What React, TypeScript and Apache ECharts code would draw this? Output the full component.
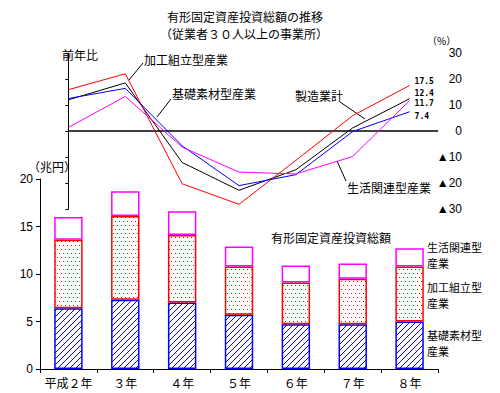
import React, { useEffect, useRef } from "react";
import * as echarts from "echarts";

const categories = ["平成２年", "３年", "４年", "５年", "６年", "７年", "８年"];
// 有形固定資産投資総額 (兆円)
const kisoBar = [6.4, 7.3, 7.0, 5.7, 4.7, 4.7, 5.0];
const kakoBar = [7.2, 8.8, 7.1, 5.1, 4.4, 4.8, 5.8];
const seikatsuBar = [2.4, 2.6, 2.5, 2.1, 1.8, 1.6, 1.9];
// 前年比 (%)
const seizoLine = [12.0, 18.5, -12.1, -22.8, -14.9, 1.2, 12.4];
const kakoLine = [15.9, 22.0, -20.3, -28.2, -11.3, 5.9, 17.5];
const kisoLine = [12.5, 16.4, -5.7, -21.0, -16.8, -0.2, 7.4];
const seikatsuLine = [1.4, 13.3, -6.2, -15.8, -16.5, -9.8, 11.7];

const JP = "'Noto Sans CJK JP', sans-serif";
const NUM = "'Liberation Sans', 'DejaVu Sans', sans-serif";

function svgTile(w: number, h: number, color: string, cells: [number, number][]): string {
  const rects = cells
    .map(([x, y]) => `<rect x='${x}' y='${y}' width='1' height='1' fill='${color}'/>`)
    .join("");
  const svg =
    `<svg xmlns='http://www.w3.org/2000/svg' width='${w}' height='${h}' shape-rendering='crispEdges'>` +
    `<rect width='${w}' height='${h}' fill='#ffffff'/>` +
    rects +
    `</svg>`;
  return "data:image/svg+xml;charset=utf-8," + encodeURIComponent(svg);
}

const dotTile = svgTile(4, 8, "#ff0000", [
  [1, 1],
  [3, 5],
]);
const hatchTile = svgTile(6, 6, "#0000ff", [
  [0, 5],
  [1, 4],
  [2, 3],
  [3, 2],
  [4, 1],
  [5, 0],
]);

function lineSeries(name: string, vals: number[], color: string, dy: number) {
  return {
    name,
    type: "line",
    xAxisIndex: 0,
    yAxisIndex: 0,
    symbol: "none",
    lineStyle: { color, width: 1 },
    itemStyle: { color },
    z: 5,
    endLabel: {
      show: true,
      distance: 5,
      offset: [0, dy],
      formatter: (p: any) => Number(p.value[1]).toFixed(1),
      fontFamily: "'DejaVu Sans Mono', monospace",
      fontWeight: "bold",
      fontSize: 8,
      color: "#000",
    },
    data: vals.map((v, i) => [i, v]),
  };
}

export default function App() {
  const ref = useRef<HTMLDivElement>(null);
  useEffect(() => {
    document.body.style.margin = "0";
    const chart = echarts.init(ref.current!, null, { renderer: "svg" });
    const txt = (text: string, x: number, y: number, extra: any = {}) => ({
      type: "text",
      x,
      y,
      style: {
        text,
        fontFamily: JP,
        fontSize: 12,
        fill: "#000",
        textVerticalAlign: "middle",
        ...extra,
      },
    });
    const ln = (x1: number, y1: number, x2: number, y2: number) => ({
      type: "line",
      shape: { x1, y1, x2, y2 },
      style: { stroke: "#000", lineWidth: 1 },
    });
    chart.setOption({
      animation: false,
      backgroundColor: "#ffffff",
      grid: [
        { left: 40, right: 62, top: 53, height: 156 },
        { left: 40, right: 62, top: 179, height: 190 },
      ],
      xAxis: [
        { type: "value", gridIndex: 0, min: -0.5, max: 6.5, show: false },
        {
          type: "category",
          gridIndex: 1,
          data: categories,
          axisLine: { lineStyle: { color: "#000", width: 1 } },
          axisTick: { show: true, length: 4, lineStyle: { color: "#000" } },
          axisLabel: {
            interval: 0,
            fontFamily: JP,
            fontSize: 12,
            color: "#000",
            margin: 7,
          },
        },
      ],
      yAxis: [
        {
          type: "value",
          gridIndex: 0,
          position: "right",
          min: -30,
          max: 30,
          interval: 10,
          splitLine: { show: false },
          axisLine: { show: true, lineStyle: { color: "#000", width: 1 } },
          axisTick: { show: true, inside: true, length: 3, lineStyle: { color: "#000" } },
          axisLabel: {
            fontFamily: NUM,
            fontSize: 12,
            color: "#000",
            align: "right",
            margin: 24,
            formatter: (v: number) => (v < 0 ? "▲" + Math.abs(v) : String(v)),
          },
        },
        {
          type: "value",
          gridIndex: 1,
          min: 0,
          max: 20,
          interval: 5,
          splitLine: { show: false },
          axisLine: { show: true, lineStyle: { color: "#000", width: 1 } },
          axisTick: { show: true, length: 4, lineStyle: { color: "#000" } },
          axisLabel: { fontFamily: NUM, fontSize: 12, color: "#000", margin: 7 },
        },
      ],
      series: [
        {
          name: "基礎素材型産業",
          type: "bar",
          stack: "total",
          xAxisIndex: 1,
          yAxisIndex: 1,
          barWidth: "50%",
          itemStyle: {
            color: { image: hatchTile, repeat: "repeat", imageWidth: 6, imageHeight: 6 },
            borderColor: "#0000ff",
            borderWidth: 1.5,
          },
          data: kisoBar,
        },
        {
          name: "加工組立型産業",
          type: "bar",
          stack: "total",
          xAxisIndex: 1,
          yAxisIndex: 1,
          barWidth: "50%",
          itemStyle: {
            color: { image: dotTile, repeat: "repeat", imageWidth: 4, imageHeight: 8 },
            borderColor: "#ff0000",
            borderWidth: 1.5,
          },
          data: kakoBar,
        },
        {
          name: "生活関連型産業",
          type: "bar",
          stack: "total",
          xAxisIndex: 1,
          yAxisIndex: 1,
          barWidth: "50%",
          itemStyle: { color: "#ffffff", borderColor: "#ff00ff", borderWidth: 1.5 },
          data: seikatsuBar,
        },
        {
          ...lineSeries("製造業計", seizoLine, "#000000", -5),
          markLine: {
            silent: true,
            symbol: "none",
            label: { show: false },
            lineStyle: { color: "#000", width: 1.5, type: "solid" },
            data: [[{ coord: [0, 0] }, { coord: [6.5, 0] }]],
          },
        },
        lineSeries("加工組立型産業", kakoLine, "#ff0000", -4),
        lineSeries("基礎素材型産業", kisoLine, "#0000ff", 5),
        lineSeries("生活関連型産業", seikatsuLine, "#ff00ff", 3),
      ],
      graphic: [
        txt("有形固定資産投資総額の推移", 167, 16),
        txt("（従業者３０人以上の事業所）", 160, 33),
        txt("前年比", 62, 54),
        txt("（%）", 427, 40, { fontSize: 10 }),
        txt("（兆円）", 28, 166),
        txt("加工組立型産業", 144, 59),
        txt("基礎素材型産業", 172, 93),
        txt("製造業計", 295, 95),
        txt("生活関連型産業", 347, 187),
        txt("有形固定資産投資総額", 271, 237),
        txt("生活関連型", 427, 247, { fontSize: 11 }),
        txt("産業", 427, 263, { fontSize: 11 }),
        txt("加工組立型", 427, 287, { fontSize: 11 }),
        txt("産業", 427, 303, { fontSize: 11 }),
        txt("基礎素材型", 427, 335, { fontSize: 11 }),
        txt("産業", 427, 351, { fontSize: 11 }),
        ln(143, 63, 129, 80),
        ln(171, 99, 157, 117),
        ln(340, 102, 365, 119),
        ln(337, 161, 346, 181),
      ],
    });
    return () => chart.dispose();
  }, []);
  return (
    <div
      ref={ref}
      style={{ position: "absolute", left: 0, top: 0, width: 500, height: 393 }}
    />
  );
}
